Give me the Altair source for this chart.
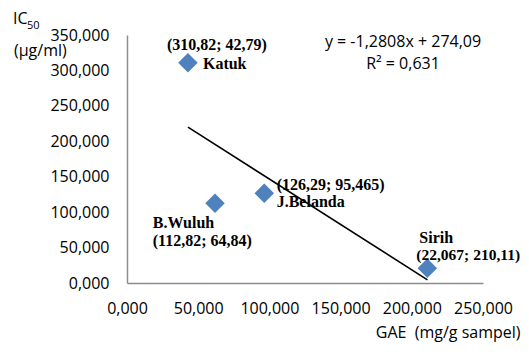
import altair as alt
import pandas as pd

# --- data ---
names = ["Katuk", "B.Wuluh", "J.Belanda", "Sirih"]
gae = [42.79, 61.8, 96.4, 210.9]          # x (mg/g sampel)
ic50 = [310.82, 112.5, 126.6, 20.7]       # y (µg/ml)
coord_labels = ["(310,82; 42,79)", "(112,82; 64,84)", "(126,29; 95,465)", "(22,067; 210,11)"]

trend_x = [42.8, 211.0]
trend_y = [220.0, 4.5]

x_ticks = [0, 50, 100, 150, 200, 250]
y_ticks = [0, 50, 100, 150, 200, 250, 300, 350]

equation = "y = -1,2808x + 274,09"
r2 = "R² = 0,631"

df = pd.DataFrame({"name": names, "gae": gae, "ic50": ic50, "coord": coord_labels})
trend = pd.DataFrame({"gae": trend_x, "ic50": trend_y})

W, H = 356, 248
SANS = "Open Sans"
SERIF = "Liberation Serif"
FS = 16
LABEL_EXPR = "replace(format(datum.value, '.3f'), '.', ',')"

xscale = alt.Scale(domain=[0, 250], nice=False, zero=True)
yscale = alt.Scale(domain=[0, 350], nice=False, zero=True)

xaxis = alt.Axis(values=x_ticks, labelExpr=LABEL_EXPR, grid=False, ticks=False,
                 labelOverlap=False, labelFlush=False, labelBound=False,
                 labelPadding=17, labelFontSize=FS, labelFont=SANS, labelColor="#000000",
                 domainColor="#8c8c8c", domainWidth=1.5,
                 title="GAE\u00a0 (mg/g sampel)", titleFont=SANS, titleFontSize=FS,
                 titleFontWeight="normal", titleColor="#000000",
                 titleAlign="right", titleAnchor="end", titleBaseline="middle",
                 titleX=393, titleY=49)
yaxis = alt.Axis(values=y_ticks, labelExpr=LABEL_EXPR, grid=False, ticks=False,
                 labelOverlap=False, labelFlush=False, labelBound=False,
                 labelPadding=18, labelFontSize=FS, labelFont=SANS, labelColor="#000000",
                 domainColor="#8c8c8c", domainWidth=1.5, title=None)

X = alt.X("gae:Q", scale=xscale, axis=xaxis)
Y = alt.Y("ic50:Q", scale=yscale, axis=yaxis)

base = alt.Chart(df)

points = base.mark_point(shape="diamond", filled=True, size=380, color="#4F81BD", opacity=1).encode(x=X, y=Y)

line = alt.Chart(trend).mark_line(color="#000000", strokeWidth=1.6).encode(x=X, y=Y)

def label(name, field, dx, dy, align="left", size=16):
    return base.transform_filter(alt.datum.name == name).mark_text(
        font=SERIF, fontSize=size, fontWeight="bold", color="#000000",
        align=align, baseline="middle", dx=dx, dy=dy,
    ).encode(x=X, y=Y, text=f"{field}:N")

labels = [
    label("Katuk", "coord", 29, -18, "center"),
    label("Katuk", "name", 15, 1.5),
    label("B.Wuluh", "name", -62.3, 19.4),
    label("B.Wuluh", "coord", -62.3, 37.7),
    label("J.Belanda", "coord", 12.4, -8.3),
    label("J.Belanda", "name", 12.4, 9),
    label("Sirih", "name", -8, -30),
    label("Sirih", "coord", -11, -13.3, "left", 15.5),
]

def free_text(txt, x, y, size=FS, align="left"):
    return alt.Chart(pd.DataFrame({"t": [txt]})).mark_text(
        font=SANS, fontSize=size, color="#000000", align=align, baseline="middle"
    ).encode(x=alt.value(x), y=alt.value(y), text="t:N")

annotations = [
    free_text(equation, 276, 7, FS, "center"),
    free_text(r2, 276, 29, FS, "center"),
    free_text("IC", -114, -16, FS),
    free_text("50", -100, -9.5, 11),
    free_text("(µg/ml)", -113, 15.5, FS),
]

chart = alt.layer(points, line, *labels, *annotations).properties(
    width=W, height=H,
    autosize=alt.AutoSizeParams(type="none"),
    padding={"left": 119, "top": 27, "right": 38, "bottom": 60},
).configure_view(stroke=None)

chart.save("out.html", embed_options={"renderer": "svg", "actions": False})
